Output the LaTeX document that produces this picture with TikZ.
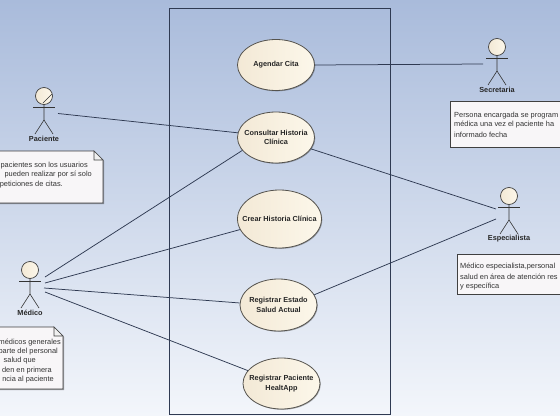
\documentclass[tikz,border=0pt]{standalone}
\usepackage{fontspec}
\setmainfont{Liberation Sans}
\usetikzlibrary{shapes.geometric,shadows}
\definecolor{linec}{HTML}{2F3A52}
\definecolor{bgtop}{HTML}{A9BBDB}
\definecolor{bgbot}{HTML}{F3F6FB}
\definecolor{ucl}{HTML}{F3E9D6}
\definecolor{ucr}{HTML}{FCF7EA}
\definecolor{edge}{HTML}{55534E}
\definecolor{notefill}{HTML}{F8F6F8}
\tikzset{
  usecase/.style={ellipse,draw=edge,line width=.8pt,left color=ucl,right color=ucr,
    inner sep=0pt,minimum width=77pt,minimum height=51pt,
    general shadow={shadow xshift=.8pt,shadow yshift=-.8pt,fill=black,opacity=.3}},
  uctext/.style={inner sep=0pt,align=center,font=\fontsize{7.3}{9.3}\selectfont\bfseries,text=black!85},
  link/.style={draw=linec,line width=.75pt},
  limb/.style={draw=black!80,line width=.6pt},
  head/.style={circle,draw=black!75,line width=.7pt,minimum size=17pt,inner sep=0pt,left color=ucl,right color=ucr},
  actorlabel/.style={font=\fontsize{7.3}{8}\selectfont\bfseries,text=black!85,inner sep=0pt},
  notebox/.style={draw=black!75,line width=.6pt,fill=notefill,
    general shadow={shadow xshift=1.2pt,shadow yshift=-1.2pt,fill=black,opacity=.35}},
  notetext/.style={font=\fontsize{7.4}{9}\selectfont,text=black!80,inner sep=0pt,anchor=west},
  noteend/.style={notetext,anchor=east},
}
\newcommand{\actorfig}[4]{% name, x, y of head centre, label
  \node[head] (#1) at (#2,#3) {};
  \draw[limb] (#2,#3+8.5) -- (#2,#3+24) -- (#2-9,#3+38);
  \draw[limb] (#2,#3+24) -- (#2+9,#3+38);
  \draw[limb] (#2-11,#3+11) -- (#2+11,#3+11);
  \node[actorlabel] (#1label) at (#2,#3+43) {#4};
}
\begin{document}
\begin{tikzpicture}[x=1pt,y=-1pt]
\useasboundingbox (0,0) rectangle (560,420);
\fill[white] (0,0) rectangle (560,420);
\shade[top color=bgtop,bottom color=bgbot] (0,0) rectangle (560,415);
\draw[draw=linec,line width=.8pt] (169.5,8.5) rectangle (390.5,414);

\node[usecase] (agendar) at (276,65) {};
\node[uctext] (agendart) at (agendar) {Agendar Cita};
\node[usecase] (consultar) at (276,137.5) {};
\node[uctext] (consultart) at (consultar) {Consultar Historia\\Clínica};
\node[usecase,minimum width=84pt,minimum height=58pt] (crear) at (279.5,219) {};
\node[uctext] (creart) at (crear) {Crear Historia Clínica};
\node[usecase,minimum height=52pt] (estado) at (278.5,305) {};
\node[uctext] (estadot) at (estado) {Registrar Estado\\Salud Actual};
\node[usecase] (regpac) at (281.5,383.5) {};
\node[uctext] (regpact) at (regpac) {Registrar Paciente\\HealtApp};

\actorfig{paciente}{44}{96}{Paciente}
\draw[limb] (43,103) -- (52,94);
\actorfig{medico}{30}{270}{Médico}
\actorfig{secretaria}{497}{47}{Secretaria}
\actorfig{especialista}{509}{196}{Especialista}

\coordinate (p1) at (58,113.5);
\coordinate (m1) at (45,277);
\coordinate (m2) at (45,283);
\coordinate (m3) at (44,288);
\coordinate (m4) at (45,292);
\coordinate (s1) at (483,64);
\coordinate (e1) at (496,209);
\coordinate (e2) at (496,219);

\draw[link] (p1) -- (consultar.173);
\draw[link] (m1) -- (consultar.201);
\draw[link] (m2) -- (crear.195);
\draw[link] (m3) -- (estado.177);
\draw[link] (m4) -- (regpac.159);
\draw[link] (s1) -- (agendar.east);
\draw[link] (e1) -- (consultar.-18);
\draw[link] (e2) -- (estado.16);

% notes
\draw[notebox] (-5,151) -- (94,151) -- (103,160) -- (103,203) -- (-5,203) -- cycle;
\draw[draw=black!75,line width=.6pt,fill=black!6] (94,151) -- (94,160) -- (103,160) -- cycle;
\node[noteend] (n1a) at (88,166) {pacientes son los usuarios};
\node[noteend] (n1b) at (92,175) {pueden realizar por sí solo};
\node[noteend] (n1c) at (63,185) {peticiones de citas.};

\draw[notebox] (-5,327) -- (54,327) -- (63,336) -- (63,389) -- (-5,389) -- cycle;
\draw[draw=black!75,line width=.6pt,fill=black!6] (54,327) -- (54,336) -- (63,336) -- cycle;
\node[noteend] (n2a) at (61,343) {médicos generales};
\node[noteend] (n2b) at (58,352) {parte del personal};
\node[noteend] (n2c) at (36,361) {salud que};
\node[noteend] (n2d) at (52,371) {den en primera};
\node[noteend] (n2e) at (54,380) {ncia al paciente};

\draw[notebox] (565,101) -- (450,101) -- (450,147) -- (565,147);
\node[notetext] (n3a) at (454,116) {Persona encargada se program};
\node[notetext] (n3b) at (454,125) {médica una vez el paciente ha};
\node[notetext] (n3c) at (454,135) {informado fecha};

\draw[notebox] (565,254) -- (457,254) -- (457,294) -- (565,294);
\node[notetext] (n4a) at (460,267) {Médico especialista,personal};
\node[notetext] (n4b) at (460,277) {salud en área de atención res};
\node[notetext] (n4c) at (460,287) {y específica};
\end{tikzpicture}
\end{document}
